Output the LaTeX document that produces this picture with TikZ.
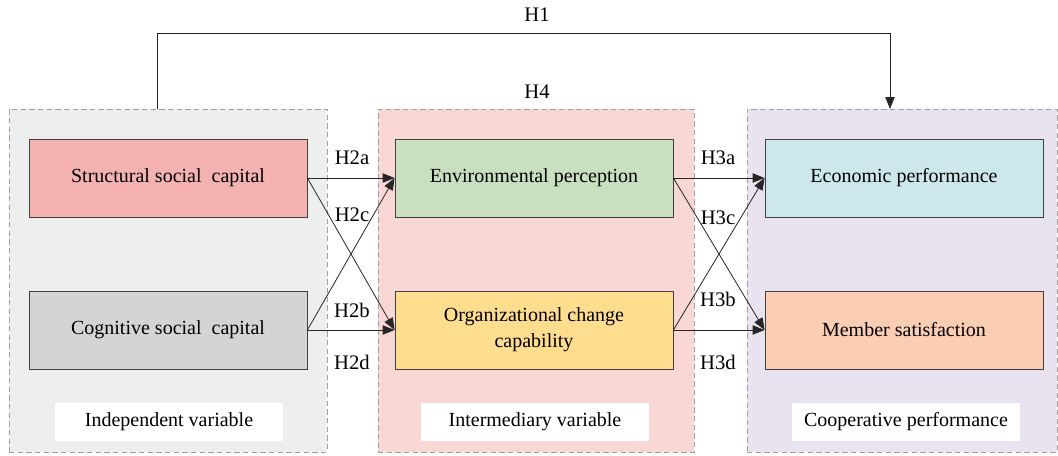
\documentclass[tikz,border=0pt]{standalone}
\usepackage{fontspec}
\setmainfont{Liberation Serif}
\usetikzlibrary{arrows.meta}

\definecolor{grpgray}{HTML}{EDEEEE}
\definecolor{grppink}{HTML}{F9D7D5}
\definecolor{grplilac}{HTML}{E8E3EF}
\definecolor{boxred}{HTML}{F4B3B0}
\definecolor{boxgray}{HTML}{D3D4D3}
\definecolor{boxgreen}{HTML}{C9E0C0}
\definecolor{boxyellow}{HTML}{FFDD8F}
\definecolor{boxcyan}{HTML}{CCE8EC}
\definecolor{boxpeach}{HTML}{FBCDB2}

\begin{document}
\begin{tikzpicture}[x=0.75pt, y=-0.75pt,
        group/.style={draw=gray!75, dashed, dash pattern=on 4pt off 2.5pt, line width=0.7pt, inner sep=0pt, minimum height=257.25pt},
        var/.style={draw=black!75, line width=0.6pt, minimum width=208.5pt, minimum height=58.5pt, align=center, font=\fontsize{15}{19.5}\selectfont},
        tag/.style={fill=white, minimum width=171pt, minimum height=28.5pt, font=\fontsize{15}{17}\selectfont},
        hyp/.style={font=\fontsize{15.5}{17}\selectfont},
        arr/.style={-{Triangle[length=9pt,width=7pt]}, line width=0.6pt, black!85}]
        \useasboundingbox (0,0) rectangle (1058,455);

        % groups
        \node[group, fill=grpgray, minimum width=238.5pt] (indep) at (168,280.5) {};
        \node[group, fill=grppink, minimum width=237pt] (inter) at (536,280.5) {};
        \node[group, fill=grplilac, minimum width=232.5pt] (coop) at (902,280.5) {};

        \node[tag] (tindep) at (169,422) {Independent variable};
        \node[tag] (tinter) at (535,422) {Intermediary variable};
        \node[tag] (tcoop) at (906,422) {Cooperative performance};

        % variables
        \node[var, fill=boxred] (struct) at (168,178) {Structural social\ \ capital};
        \node[var, fill=boxgray] (cogn) at (168,330) {Cognitive social\ \ capital};
        \node[var, fill=boxgreen] (env) at (534,178) {Environmental perception};
        \node[var, fill=boxyellow] (org) at (534,330) {Organizational change\\capability};
        \node[var, fill=boxcyan] (econ) at (904,178) {Economic performance};
        \node[var, fill=boxpeach] (memb) at (904,330) {Member satisfaction};

        % hypotheses
        \draw[arr] (struct.east) -- (env.west);
        \draw[arr] (struct.east) -- (org.west);
        \draw[arr] (cogn.east) -- (env.west);
        \draw[arr] (cogn.east) -- (org.west);
        \draw[arr] (env.east) -- (econ.west);
        \draw[arr] (env.east) -- (memb.west);
        \draw[arr] (org.east) -- (econ.west);
        \draw[arr] (org.east) -- (memb.west);

        \node[hyp] (h2a) at (352,158) {H2a};
        \node[hyp] (h2c) at (352,215) {H2c};
        \node[hyp] (h2b) at (352,310) {H2b};
        \node[hyp] (h2d) at (352,362) {H2d};
        \node[hyp] (h3a) at (718,158) {H3a};
        \node[hyp] (h3c) at (718,218) {H3c};
        \node[hyp] (h3b) at (718,299) {H3b};
        \node[hyp] (h3d) at (718,362) {H3d};

        % direct path
        \coordinate (h1s) at (157,109);
        \coordinate (h1e) at (890,109);
        \draw[arr] (h1s) -- (157,33) -| (h1e);
        \node[hyp] (h1) at (537,15) {H1};
        \node[hyp] (h4) at (537,92) {H4};
    \end{tikzpicture}
\end{document}
